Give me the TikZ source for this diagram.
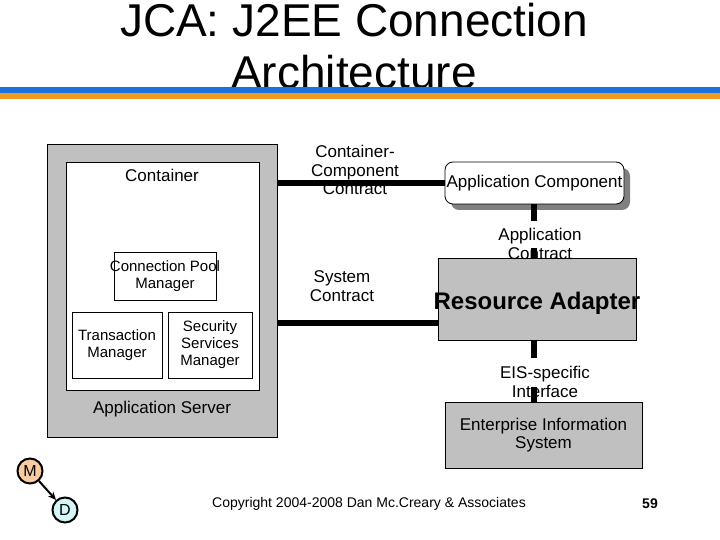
\documentclass[tikz,border=0pt]{standalone}
\usepackage{fontspec}
\setmainfont{Liberation Sans}
\usetikzlibrary{arrows.meta}
\definecolor{boxgray}{HTML}{C0C0C0}
\definecolor{shadowgray}{HTML}{808080}
\definecolor{stripeblue}{HTML}{1A72DE}
\definecolor{stripeorange}{HTML}{F39A1C}
\definecolor{mfill}{HTML}{F9CBA0}
\definecolor{dfill}{HTML}{D4F6F6}
\tikzset{
  lbl/.style={font=\fontsize{17}{18.5}\selectfont, align=center, inner sep=0pt},
  smalllbl/.style={font=\fontsize{15}{17}\selectfont, align=center, inner sep=0pt},
  graybox/.style={draw=black, fill=boxgray, line width=0.8pt, inner sep=0pt},
  whitebox/.style={draw=black, fill=white, line width=0.8pt, inner sep=0pt},
  conn/.style={line width=6pt, black},
  circ/.style={circle, draw=black, line width=2pt, minimum size=25pt, inner sep=0pt, font=\fontsize{16}{18}\selectfont}
}
\begin{document}
\begin{tikzpicture}[x=1pt,y=-1pt]
\useasboundingbox (0,0) rectangle (720,540);
% title
\node[anchor=base, inner sep=0pt, font=\fontsize{46}{52}\selectfont] (t1) at (354,37) {JCA: J2EE Connection};
\node[anchor=base, inner sep=0pt, font=\fontsize{46}{52}\selectfont] (t2) at (354,89) {Architecture};
\fill[stripeblue] (0,87) rectangle (720,93);
\fill[stripeorange] (0,93) rectangle (720,99);
% application server
\node[graybox, minimum width=230pt, minimum height=293pt] (appserver) at (162,290.5) {};
\node[whitebox, minimum width=193pt, minimum height=228pt] (container) at (162.5,276) {};
\node[whitebox, minimum width=102pt, minimum height=48pt] (cpm) at (165,276) {};
\node[whitebox, minimum width=90pt, minimum height=66pt] (tm) at (117,345) {};
\node[whitebox, minimum width=84pt, minimum height=66pt] (ssm) at (210,345) {};
\node[lbl] (containerlbl) at (162,175) {Container};
\node[smalllbl] (cpmlbl) at (cpm) {Connection Pool\\Manager};
\node[smalllbl] (tmlbl) at (tm) {Transaction\\Manager};
\node[smalllbl] (ssmlbl) at (ssm) {Security\\Services\\Manager};
\node[lbl] (aslbl) at (162,409) {Application Server};
% application component
\fill[shadowgray, rounded corners=8pt] (451,168) rectangle (630,210);
\node[draw=black, fill=white, rounded corners=8pt, line width=0.8pt, minimum width=179pt, minimum height=42pt, inner sep=0pt, font=\fontsize{17}{18}\selectfont] (appcomp) at (534.5,183) {Application Component};
% resource adapter
\node[graybox, minimum width=198pt, minimum height=82pt, font=\fontsize{24}{28}\selectfont\bfseries] (ra) at (537,299) {};
\node[inner sep=0pt, font=\fontsize{24}{28}\selectfont\bfseries] (ralbl) at (537,303) {Resource Adapter};
% EIS
\node[graybox, minimum width=197pt, minimum height=66pt] (eis) at (543.5,435) {};
\node[lbl] (eislbl) at (eis) {Enterprise Information\\System};
% contract labels
\node[lbl] (cccl) at (355,170) {Container-\\Component\\Contract};
\node[lbl] (scl) at (342,286) {System\\Contract};
\node[lbl] (acl) at (540,244) {Application\\Contract};
\node[lbl] (eisl) at (545,382) {EIS-specific\\Interface};
% connectors
\draw[conn] (appserver.east |- appcomp.west) -- (appcomp.west);
\coordinate (sysy) at (0,323);
\draw[conn] (appserver.east |- sysy) -- (ra.west |- sysy);
\coordinate (ac1) at (534,221);
\coordinate (ac2) at (534,248);
\draw[conn] (appcomp.south -| ac1) -- (ac1);
\draw[conn] (ac2) -- (ra.north -| ac2);
\coordinate (ei1) at (534,358);
\coordinate (ei2) at (534,387);
\draw[conn] (ra.south -| ei1) -- (ei1);
\draw[conn] (ei2) -- (eis.north -| ei2);
% M / D
\node[circ, fill=mfill] (m) at (30,471) {M};
\node[circ, fill=dfill] (d) at (65,510) {D};
\draw[line width=2pt, -{Stealth[length=8pt,width=7pt]}] (m) -- (d);
% footer
\node[inner sep=0pt, font=\fontsize{14}{16}\selectfont] (copy) at (369,504) {Copyright 2004-2008 Dan Mc.Creary \& Associates};
\node[inner sep=0pt, font=\fontsize{14}{16}\selectfont\bfseries] (page) at (650,504) {59};
\end{tikzpicture}
\end{document}
